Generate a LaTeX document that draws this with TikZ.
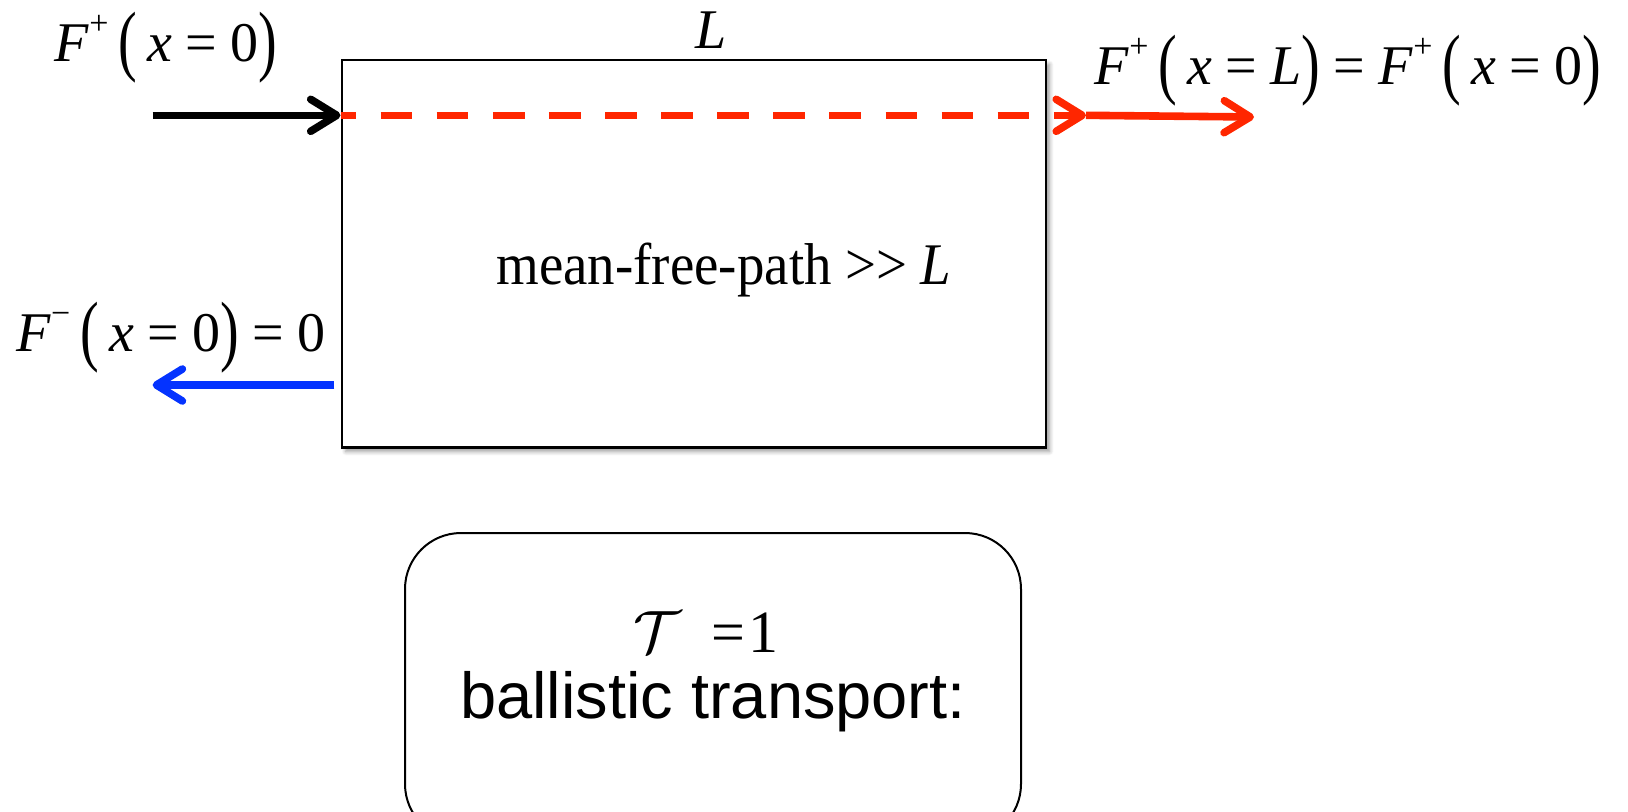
\documentclass[tikz,border=0pt]{standalone}
\usepackage{fontspec}
\setmainfont{Liberation Serif}
\newfontfamily\arialfont{Liberation Sans}
\usepackage{graphicx}
\usetikzlibrary{arrows.meta,shadows.blur}
\definecolor{redline}{RGB}{255,38,0}
\definecolor{blueline}{RGB}{4,51,255}
\newcommand{\lpar}{\raisebox{-0.09em}{\scalebox{1}[1.4]{(}}}
\newcommand{\rpar}{\raisebox{-0.09em}{\scalebox{1}[1.4]{)}}}
\newcommand{\Fsup}[1]{\textit{F}\raisebox{0.48em}{\fontsize{17}{17}\selectfont #1}}
\newcommand{\eqs}{\hspace{0.24em}=\hspace{0.24em}}
\newcommand{\sps}{\hspace{0.18em}}
\tikzset{
  lbl/.style={inner sep=0pt, font=\fontsize{28}{32}\selectfont},
  slab/.style={draw, line width=1.1pt, fill=white, inner sep=0pt,
    blur shadow={shadow xshift=2pt, shadow yshift=-2pt, shadow blur steps=6, shadow blur radius=2pt}},
  chev/.style={-{Straight Barb[length=13pt,width=16pt,line cap=round,line join=round]}, line width=3.8pt},
  blackarrow/.style={chev, draw=black},
  redarrow/.style={chev, draw=redline},
  reddash/.style={chev, draw=redline, dash pattern=on 15.85pt off 12.2pt, dash phase=8pt},
  bluearrow/.style={chev, draw=blueline},
  rbox/.style={draw, line width=1pt, rounded corners=28pt, inner sep=0pt}
}
\begin{document}
\begin{tikzpicture}[x=0.5pt,y=-0.5pt]
\clip (0,0) rectangle (1628,811);
% main slab
\node[slab, minimum width=352pt, minimum height=193.6pt] (box) at (693.6,253.9) {};
% labels
\node[lbl] (lF0) at (166,48) {\Fsup{+}\sps\lpar\sps\textit{x}\eqs0\rpar};
\node[lbl] (lL) at (711,30) {\textit{L}};
\node[lbl] (lFL) at (1348,71) {\Fsup{+}\sps\lpar\sps\textit{x}\eqs\textit{L}\rpar\eqs\Fsup{+}\sps\lpar\sps\textit{x}\eqs0\rpar};
\node[lbl] (lmfp) at (724,270) {\fontsize{29.5}{32}\selectfont\scalebox{0.93}[1]{mean-free-path >{}> \textit{L}}};
\node[lbl] (lFm) at (171,338) {\Fsup{\textminus}\sps\lpar\sps\textit{x}\eqs0\rpar\eqs0};
% arrows
\coordinate (inL) at (152.6,115.3);
\coordinate (outA) at (1086,115.3);
\coordinate (outB) at (1254,117);
\draw[blackarrow] (inL) -- (box.west |- inL);
\draw[reddash] (box.west |- inL) -- (outA);
\draw[redarrow] (outA) -- (outB);
\coordinate (blueS) at (334.3,385);
\coordinate (blueE) at (152.6,385);
\draw[bluearrow] (blueS) -- (blueE);
% rounded result box
\node[rbox, minimum width=308pt, minimum height=153.5pt] (tbox) at (713,686.5) {};
\node[inner sep=0pt, font=\fontsize{30}{32}\selectfont] (tT) at (706,632) {\scalebox{1.2}{$\mathcal{T}$}\ \ =\hspace{0.05em}1};
\node[inner sep=0pt, font=\arialfont\fontsize{32.5}{35}\selectfont] (tB) at (713,702) {ballistic transport:};
\end{tikzpicture}
\end{document}
